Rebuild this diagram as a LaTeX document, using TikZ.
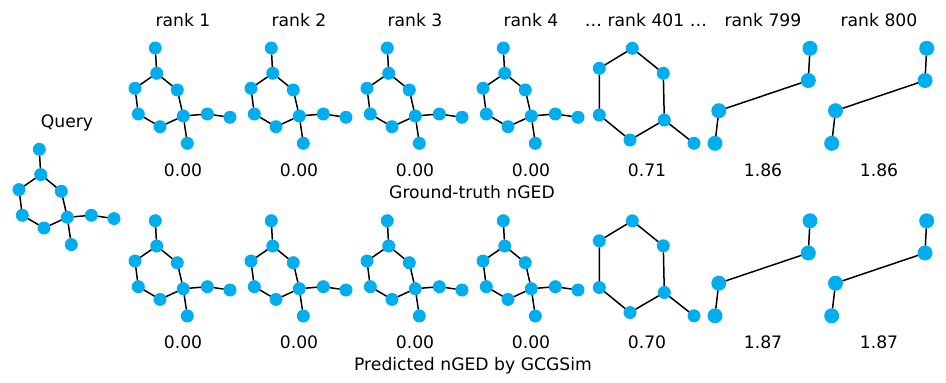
\documentclass[tikz,border=0pt]{standalone}
\usepackage{fontspec}
\setmainfont{DejaVu Sans}
\usetikzlibrary{positioning}
\definecolor{atomblue}{RGB}{0,174,239}

% ring with three side groups, placed by its top atom
\newcommand{\molring}[3]{%
  \begin{scope}[shift={(#2,#3)}]
    \node[atom] (#1t) at (0,0) {};
    \node[atom] (#1a) at (1.4,25.3) {};
    \node[atom] (#1b) at (-20.3,40.3) {};
    \node[atom] (#1c) at (22,42) {};
    \node[atom] (#1d) at (-17,66) {};
    \node[atom] (#1e) at (4.7,78.7) {};
    \node[atom] (#1f) at (28,68) {};
    \node[atom] (#1g) at (52,66) {};
    \node[atom] (#1h) at (74.7,69.3) {};
    \node[atom] (#1i) at (32,95.3) {};
    \draw[bond] (#1t) -- (#1a) (#1a) -- (#1b) (#1a) -- (#1c)
      (#1b) -- (#1d) (#1d) -- (#1e) (#1e) -- (#1f) (#1c) -- (#1f)
      (#1f) -- (#1g) (#1g) -- (#1h) (#1f) -- (#1i);
  \end{scope}}

% plain ring with one tail
\newcommand{\moltail}[3]{%
  \begin{scope}[shift={(#2,#3)}]
    \node[atom] (#1t) at (0,0) {};
    \node[atom] (#1ul) at (-33,20) {};
    \node[atom] (#1ur) at (31,25) {};
    \node[atom] (#1ll) at (-33,66.7) {};
    \node[atom] (#1lr) at (32,71.7) {};
    \node[atom] (#1bo) at (-2.3,91.7) {};
    \node[atom] (#1ta) at (61.7,95) {};
    \draw[bond] (#1t) -- (#1ul) (#1t) -- (#1ur) (#1ul) -- (#1ll)
      (#1ur) -- (#1lr) (#1ll) -- (#1bo) (#1bo) -- (#1lr) (#1lr) -- (#1ta);
  \end{scope}}

% four atoms in a chain
\newcommand{\molchain}[3]{%
  \begin{scope}[shift={(#2,#3)}]
    \node[bigatom] (#1n1) at (0,0) {};
    \node[bigatom] (#1n2) at (-1.7,32.2) {};
    \node[bigatom] (#1n3) at (-91.2,62.4) {};
    \node[bigatom] (#1n4) at (-95,95) {};
    \draw[bond] (#1n1) -- (#1n2) -- (#1n3) -- (#1n4);
  \end{scope}}

\begin{document}
\begin{tikzpicture}[
  x=1pt, y=-1pt,
  font=\fontsize{17.2}{20}\selectfont,
  atom/.style={circle, fill=atomblue, draw=none, minimum size=13pt,
    inner sep=0pt, outer sep=0pt},
  bigatom/.style={atom, minimum size=15pt},
  bond/.style={line width=1.5pt, black},
  lab/.style={anchor=base, inner sep=0pt}
]
  \useasboundingbox (0,0) rectangle (946,383);

  % query
  \node[lab] (query) at (67,127) {Query};
  \molring{q}{39.3}{149.3}

  % top row: ground truth, bottom row: prediction
  \foreach \k/\x in {1/155.3, 2/271.3, 3/387.3, 4/503.3} {
    \molring{gt\k}{\x}{48}
    \molring{pr\k}{\x}{220.7}
  }
  \moltail{gt401}{632.3}{48.3}
  \moltail{pr401}{632.3}{220.8}
  \molchain{gt799}{810}{48.3}
  \molchain{pr799}{810}{220.8}
  \molchain{gt800}{926.7}{48.3}
  \molchain{pr800}{926.7}{220.8}

  % rank labels
  \foreach \x/\r [count=\i] in {183/rank 1, 299/rank 2, 415/rank 3,
      531/rank 4, 646/… rank 401 …, 763/rank 799, 879/rank 800}
    \node[lab] (rk\i) at (\x,26) {\r};

  % scores
  \foreach \x/\g/\p [count=\i] in {183/0.00/0.00, 299/0.00/0.00,
      415/0.00/0.00, 531/0.00/0.00, 647/0.71/0.70, 763/1.86/1.87,
      879/1.86/1.87} {
    \node[lab] (gs\i) at (\x,176) {\g};
    \node[lab] (ps\i) at (\x,348) {\p};
  }
  \node[lab] (gtcap) at (472,198) {Ground-truth nGED};
  \node[lab] (prcap) at (473,370) {Predicted nGED by GCGSim};
\end{tikzpicture}
\end{document}
